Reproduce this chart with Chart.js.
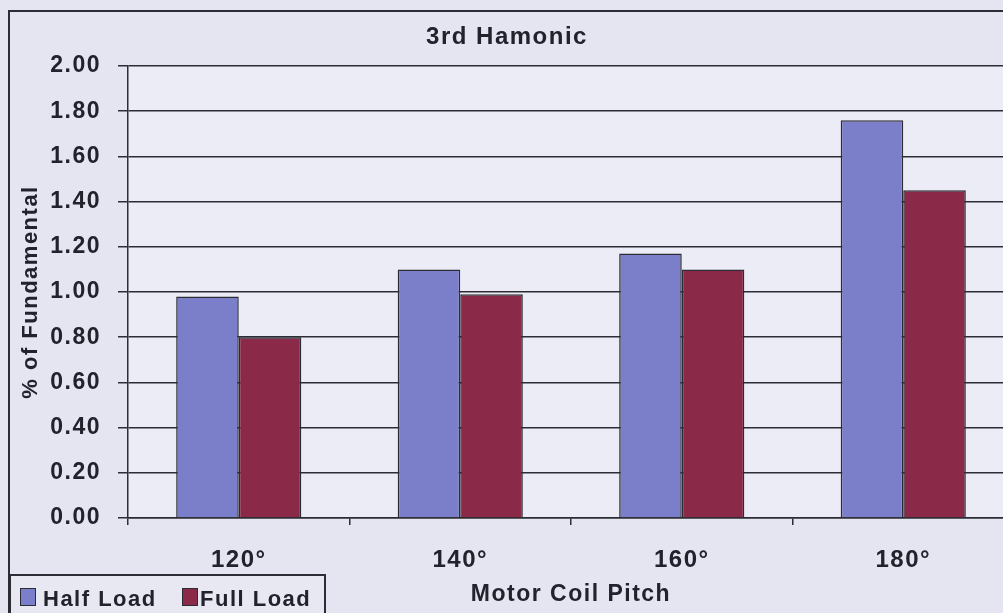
<!DOCTYPE html>
<html>
<head>
<meta charset="utf-8">
<script src="https://cdn.jsdelivr.net/npm/chart.js@4"></script>
<style>
  html, body { margin: 0; padding: 0; overflow: hidden; background: #e5e5f1; }
  #wrap { position: relative; width: 1024px; height: 613px; }
</style>
</head>
<body>
<div id="wrap"><canvas id="main-chart"></canvas></div>
<script>
const categories = ['120°', '140°', '160°', '180°'];
const seriesNames = ['Half Load', 'Full Load'];
const halfLoad = [0.98, 1.10, 1.17, 1.76];
const fullLoad = [0.80, 0.99, 1.10, 1.45];
const yTicks = [0, 0.2, 0.4, 0.6, 0.8, 1.0, 1.2, 1.4, 1.6, 1.8, 2.0];

const ink = '#22222c';
const lineC = '#2c2c34';
const fam = '"Liberation Sans", Arial, sans-serif';

const bgPlugin = {
  id: 'bgAndSpacing',
  beforeDraw(ch) {
    const c = ch.ctx, a = ch.chartArea;
    c.save();
    c.fillStyle = '#e5e5f1';
    c.fillRect(0, 0, ch.width, ch.height);
    c.fillStyle = '#ececf6';
    c.fillRect(a.left, a.top, a.right - a.left, a.bottom - a.top);
    c.restore();
    c.letterSpacing = '1.5px';
  },
  afterDraw(ch) {
    const c = ch.ctx;
    c.save();
    // outer chart frame
    c.strokeStyle = lineC;
    c.lineWidth = 2;
    c.strokeRect(9, 11, 1007, 700);

    // legend box, bottom left
    c.fillStyle = '#e8e8f3';
    c.fillRect(10, 575, 315, 60);
    c.strokeRect(10, 575, 315, 60);
    c.font = `bold 22px ${fam}`;
    c.textBaseline = 'alphabetic';
    c.textAlign = 'left';
    c.letterSpacing = '1.5px';
    const items = [{ sx: 20, tx: 43 }, { sx: 182, tx: 200 }];
    ch.data.datasets.forEach((ds, i) => {
      const it = items[i];
      c.fillStyle = ds.backgroundColor;
      c.fillRect(it.sx, 588, 15, 17);
      c.lineWidth = 1;
      c.strokeStyle = lineC;
      c.strokeRect(it.sx + 0.5, 588.5, 15, 17);
      c.fillStyle = ink;
      c.fillText(ds.label, it.tx, 606);
    });
    c.restore();
    c.letterSpacing = '0px';
  }
};

new Chart(document.getElementById('main-chart'), {
  type: 'bar',
  data: {
    labels: categories,
    datasets: [
      { label: seriesNames[0], data: halfLoad, backgroundColor: '#7b7ec8', borderColor: lineC, borderWidth: 1.5 },
      { label: seriesNames[1], data: fullLoad, backgroundColor: '#8a2a48', borderColor: lineC, borderWidth: 1.5 }
    ]
  },
  options: {
    responsive: true, maintainAspectRatio: false,
    animation: false,
    devicePixelRatio: 1,
    layout: { padding: { top: 12, left: 0, right: 10, bottom: 0 } },
    datasets: { bar: { categoryPercentage: 0.565, barPercentage: 1.0 } },
    plugins: {
      legend: { display: false },
      tooltip: { enabled: false },
      title: {
        display: true, text: '3rd Hamonic', color: ink,
        font: { family: fam, size: 24, weight: 'bold', lineHeight: 1.2 },
        padding: { top: 11, bottom: 14.2 }
      }
    },
    scales: {
      x: {
        afterFit: s => { s.height = 95; },
        grid: { display: true, drawOnChartArea: false, drawTicks: true, tickLength: 7, color: lineC, lineWidth: 1.5, offset: true },
        border: { display: true, color: lineC, width: 1.5 },
        ticks: { color: ink, padding: 21, font: { family: fam, size: 24, weight: 'bold' } },
        title: {
          display: true, text: 'Motor Coil Pitch', color: ink,
          font: { family: fam, size: 23, weight: 'bold', lineHeight: 1.2 },
          padding: { top: 0, bottom: 5 }
        }
      },
      y: {
        min: 0, max: 2,
        afterFit: s => { s.width = 128; },
        afterBuildTicks: s => { s.ticks = yTicks.map(v => ({ value: v })); },
        grid: { color: lineC, lineWidth: 1.5, drawTicks: true, tickLength: 10 },
        border: { display: true, color: lineC, width: 1.5 },
        ticks: { color: ink, padding: 17, font: { family: fam, size: 23, weight: 'bold' }, callback: v => Number(v).toFixed(2) },
        title: {
          display: true, text: '% of Fundamental', color: ink,
          font: { family: fam, size: 22, weight: 'bold', lineHeight: 1.2 },
          padding: { top: 17.8, bottom: 0 }
        }
      }
    }
  },
  plugins: [bgPlugin]
});
</script>
</body>
</html>
